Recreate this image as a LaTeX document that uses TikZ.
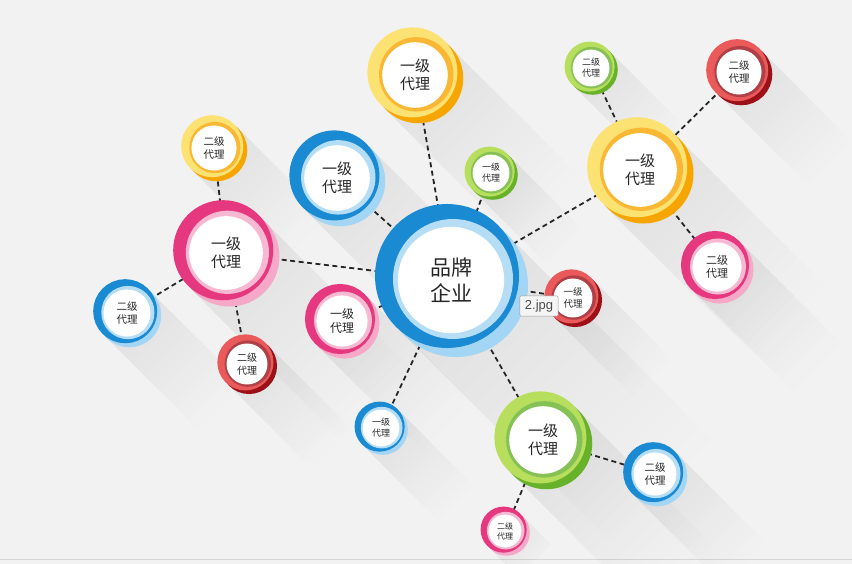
\documentclass[tikz,border=0pt]{standalone}
\usepackage{fontspec}
\setmainfont{Noto Sans CJK SC}
\newfontfamily\tipfont{Liberation Sans}
\usetikzlibrary{calc,fadings}
\pgfdeclarelayer{bg}
\pgfdeclarelayer{links}
\pgfsetlayers{bg,links,main}
\definecolor{bgray}{HTML}{F2F2F2}
\definecolor{bluedk}{HTML}{1A8AD3}
\definecolor{bluelt}{HTML}{A3D5F4}
\definecolor{yellowlt}{HTML}{FCE273}
\definecolor{yellowdk}{HTML}{F7A500}
\definecolor{pinkdk}{HTML}{E5387E}
\definecolor{pinklt}{HTML}{F5A8C7}
\definecolor{greenlt}{HTML}{B7DE5C}
\definecolor{greendk}{HTML}{68B12A}
\definecolor{redlt}{HTML}{EA5A5A}
\definecolor{reddk}{HTML}{9C1018}

\begin{document}
\begin{tikzpicture}[x=1pt,y=-1pt,line cap=round]
	\tikzstyle{quan}=[circle,inner sep=0pt,fill=white,align=center,text=black!85];
	\tikzstyle{ying}=[fill=black,fill opacity=.07,path fading=east,fading angle=-45];
	\tikzstyle{xu}=[black!85,line width=1.8pt,line cap=butt,dash pattern=on 5pt off 3.5pt];
	\tikzstyle{tip}=[draw=black!40,fill=white!96!black,rounded corners=1pt,inner xsep=5pt,inner ysep=4pt,text=black!70,font=\tipfont\fontsize{13}{15}\selectfont];
	\tikzset{huan/.style n args={3}{quan,outer sep=#1pt,
		preaction={draw=#3,line width={2*#1pt},transform canvas={shift={(.25*#1pt,-.25*#1pt)}}},
		preaction={draw=#2,line width={2*#1pt},transform canvas={shift={(-.2*#1pt,.2*#1pt)}}},
		preaction={draw=#3!80!white,line width={.8*#1pt},transform canvas={shift={(.1*#1pt,.05*#1pt)}}},
		draw=white,line width={.12*#1pt}}};
	\useasboundingbox (0,0) rectangle (852,564);
	%% brand
	\node[huan={20}{bluedk}{bluelt},minimum size=104pt,font=\fontsize{21}{26}\selectfont] (QY) at (451,280) {品牌\\企业};
	%% first level
	\node[huan={13}{yellowlt}{yellowdk},minimum size=64pt,font=\fontsize{15}{18}\selectfont]  (Y1) at (415,75)  {一级\\代理};
	\node[huan={13}{bluedk}{bluelt},minimum size=64pt,font=\fontsize{15}{18}\selectfont]      (Y2) at (337,178) {一级\\代理};
	\node[huan={14}{pinkdk}{pinklt},minimum size=72pt,font=\fontsize{15}{18}\selectfont]      (Y3) at (226,253) {一级\\代理};
	\node[huan={7}{greenlt}{greendk},minimum size=36pt,font=\fontsize{9}{11}\selectfont]      (Y4) at (491,173) {一级\\代理};
	\node[huan={14}{yellowlt}{yellowdk},minimum size=72pt,font=\fontsize{15}{18}\selectfont]  (Y5) at (640,170) {一级\\代理};
	\node[huan={8}{redlt}{reddk},minimum size=38pt,font=\fontsize{9.5}{11.5}\selectfont]      (Y6) at (573,298) {一级\\代理};
	\node[huan={10}{pinkdk}{pinklt},minimum size=50pt,font=\fontsize{12}{14.5}\selectfont]    (Y7) at (342,321) {一级\\代理};
	\node[huan={7}{bluedk}{bluelt},minimum size=36pt,font=\fontsize{9}{11}\selectfont]        (Y8) at (381,428) {一级\\代理};
	\node[huan={13}{greenlt}{greendk},minimum size=66pt,font=\fontsize{15}{18}\selectfont]    (Y9) at (543,440) {一级\\代理};
	%% second level
	\node[huan={9}{yellowlt}{yellowdk},minimum size=44pt,font=\fontsize{10.5}{13}\selectfont] (E1) at (214,148) {二级\\代理};
	\node[huan={9}{bluedk}{bluelt},minimum size=46pt,font=\fontsize{10.5}{13}\selectfont]     (E2) at (127,313) {二级\\代理};
	\node[huan={8}{redlt}{reddk},minimum size=40pt,font=\fontsize{10}{12.5}\selectfont]       (E3) at (247,364) {二级\\代理};
	\node[huan={7}{greenlt}{greendk},minimum size=36pt,font=\fontsize{9}{11}\selectfont]      (E4) at (591,68)  {二级\\代理};
	\node[huan={9}{redlt}{reddk},minimum size=44pt,font=\fontsize{10.5}{13}\selectfont]       (E5) at (739,72)  {二级\\代理};
	\node[huan={10}{pinkdk}{pinklt},minimum size=48pt,font=\fontsize{11}{13.5}\selectfont]    (E6) at (717,267) {二级\\代理};
	\node[huan={9}{bluedk}{bluelt},minimum size=42pt,font=\fontsize{10.5}{13}\selectfont]     (E7) at (655,474) {二级\\代理};
	\node[huan={7}{pinkdk}{pinklt},minimum size=32pt,font=\fontsize{8}{10}\selectfont]        (E8) at (505,531) {二级\\代理};
	%% tooltip
	\node[tip] (TIP) at (539,306) {2.jpg};
	%% background and long shadows
	\begin{pgfonlayer}{bg}
		\fill[bgray] (0,0) rectangle (852,564);
		\draw[black!16,line width=1pt] (0,559.5) -- (852,559.5);
		\fill[ying] (QY.north east) -- +(210,210) -- ($(QY.south west)+(210,210)$) -- (QY.south west) -- cycle;
		\fill[ying] (Y1.north east) -- +(130,130) -- ($(Y1.south west)+(130,130)$) -- (Y1.south west) -- cycle;
		\fill[ying] (Y2.north east) -- +(130,130) -- ($(Y2.south west)+(130,130)$) -- (Y2.south west) -- cycle;
		\fill[ying] (Y3.north east) -- +(150,150) -- ($(Y3.south west)+(150,150)$) -- (Y3.south west) -- cycle;
		\fill[ying] (Y4.north east) -- +(75,75)   -- ($(Y4.south west)+(75,75)$)   -- (Y4.south west) -- cycle;
		\fill[ying] (Y5.north east) -- +(150,150) -- ($(Y5.south west)+(150,150)$) -- (Y5.south west) -- cycle;
		\fill[ying] (Y6.north east) -- +(80,80)   -- ($(Y6.south west)+(80,80)$)   -- (Y6.south west) -- cycle;
		\fill[ying] (Y7.north east) -- +(105,105) -- ($(Y7.south west)+(105,105)$) -- (Y7.south west) -- cycle;
		\fill[ying] (Y8.north east) -- +(75,75)   -- ($(Y8.south west)+(75,75)$)   -- (Y8.south west) -- cycle;
		\fill[ying] (Y9.north east) -- +(135,135) -- ($(Y9.south west)+(135,135)$) -- (Y9.south west) -- cycle;
		\fill[ying] (E1.north east) -- +(90,90)   -- ($(E1.south west)+(90,90)$)   -- (E1.south west) -- cycle;
		\fill[ying] (E2.north east) -- +(95,95)   -- ($(E2.south west)+(95,95)$)   -- (E2.south west) -- cycle;
		\fill[ying] (E3.north east) -- +(85,85)   -- ($(E3.south west)+(85,85)$)   -- (E3.south west) -- cycle;
		\fill[ying] (E4.north east) -- +(75,75)   -- ($(E4.south west)+(75,75)$)   -- (E4.south west) -- cycle;
		\fill[ying] (E5.north east) -- +(90,90)   -- ($(E5.south west)+(90,90)$)   -- (E5.south west) -- cycle;
		\fill[ying] (E6.north east) -- +(100,100) -- ($(E6.south west)+(100,100)$) -- (E6.south west) -- cycle;
		\fill[ying] (E7.north east) -- +(90,90)   -- ($(E7.south west)+(90,90)$)   -- (E7.south west) -- cycle;
		\fill[ying] (E8.north east) -- +(30,30)   -- ($(E8.south west)+(30,30)$)   -- (E8.south west) -- cycle;
	\end{pgfonlayer}
	%% dashed links
	\begin{pgfonlayer}{links}
		\draw[xu] (QY) -- (Y1);
		\draw[xu] (QY) -- (Y2);
		\draw[xu] (QY) -- (Y3);
		\draw[xu] (QY) -- (Y4);
		\draw[xu] (QY) -- (Y5);
		\draw[xu] (QY) -- (Y6);
		\draw[xu] (QY) -- (Y7);
		\draw[xu] (QY) -- (Y8);
		\draw[xu] (QY) -- (Y9);
		\draw[xu] (Y3) -- (E1);
		\draw[xu] (Y3) -- (E2);
		\draw[xu] (Y3) -- (E3);
		\draw[xu] (Y5) -- (E4);
		\draw[xu] (Y5) -- (E5);
		\draw[xu] (Y5) -- (E6);
		\draw[xu] (Y9) -- (E7);
		\draw[xu] (Y9) -- (E8);
	\end{pgfonlayer}
\end{tikzpicture}
\end{document}
